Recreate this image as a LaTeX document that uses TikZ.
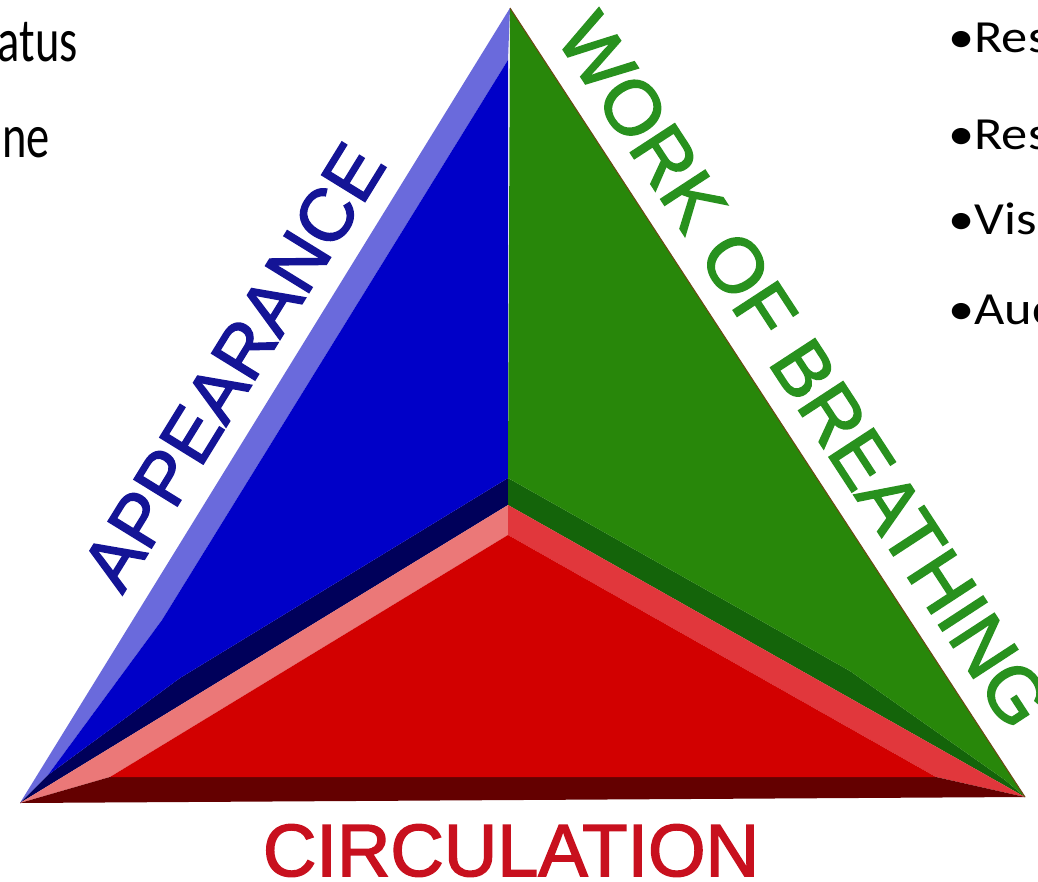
\documentclass[tikz,border=0pt]{standalone}
\usepackage{fontspec}
\setmainfont{Carlito}
\newfontfamily\arialf[FakeBold=2]{Liberation Sans}
\definecolor{lblue}{RGB}{106,106,220}
\definecolor{bmain}{RGB}{0,0,200}
\definecolor{navyb}{RGB}{0,0,90}
\definecolor{gmain}{RGB}{40,135,10}
\definecolor{dgreen}{RGB}{20,100,10}
\definecolor{pinkr}{RGB}{235,120,120}
\definecolor{lred}{RGB}{225,55,60}
\definecolor{rmain}{RGB}{210,0,0}
\definecolor{maroon}{RGB}{100,0,0}
\definecolor{edgec}{RGB}{110,70,20}
\definecolor{appc}{RGB}{20,20,150}
\definecolor{wobc}{RGB}{40,145,30}
\definecolor{circc}{RGB}{200,16,30}
\tikzset{
  lab/.style={font=\arialf\fontsize{74}{80}\selectfont, inner sep=0pt},
  lefttext/.style={font=\fontsize{62}{70}\selectfont, inner sep=0pt, text=black, anchor=base east},
  righttext/.style={font=\fontsize{46}{52}\selectfont, inner sep=0pt, text=black, anchor=base west}
}
\newcommand{\lsq}[1]{\scalebox{0.75}[1]{#1}}
\newcommand{\rwd}[1]{\scalebox{1.14}[1]{#1}}
\begin{document}
\begin{tikzpicture}[x=1pt,y=-1pt]
\useasboundingbox (0,0) rectangle (1038,882);
\clip (0,0) rectangle (1038,882);
\fill[white] (0,0) rectangle (1038,882);
% outer vertices
\coordinate (A) at (510,8);
\coordinate (L) at (20,803);
\coordinate (R) at (1025,797);
\coordinate (C) at (508,505);
% blue face inner points
\coordinate (Ap) at (508,60);
\coordinate (Cp) at (508,478);
\coordinate (B1) at (162,620);
\coordinate (N1) at (180,678);
\coordinate (Tb) at (48,775);
% green face inner points
\coordinate (G1) at (850,671);
\coordinate (Tg) at (1005,780);
% red face inner points
\coordinate (Cpp) at (508,535);
\coordinate (Lpp) at (110,777);
\coordinate (Rpp) at (936,777);
% blue face
\fill[lblue] (A) -- (L) -- (Tb) -- (B1) -- (Ap) -- cycle;
\fill[navyb] (C) -- (L) -- (Tb) -- (N1) -- (Cp) -- cycle;
\fill[bmain] (Ap) -- (B1) -- (Tb) -- (N1) -- (Cp) -- cycle;
% green face
\fill[dgreen] (C) -- (R) -- (Tg) -- (G1) -- (Cp) -- cycle;
\fill[gmain] (A) -- (Cp) -- (G1) -- (Tg) -- (R) -- cycle;
% red face
\fill[pinkr] (C) -- (L) -- (Lpp) -- (Cpp) -- cycle;
\fill[lred] (C) -- (R) -- (Rpp) -- (Cpp) -- cycle;
\fill[maroon] (L) -- (R) -- (Rpp) -- (Lpp) -- cycle;
\fill[rmain] (Cpp) -- (Lpp) -- (Rpp) -- cycle;
\draw[edgec, line width=1pt] (A) -- (R);
% labels
\node[lab, text=appc, rotate=58.35, anchor=base] (app) at (255,380) {APPEARANCE};
\node[lab, text=wobc, rotate=-56.87, anchor=base, font=\arialf\fontsize{77}{82}\selectfont] (wob) at (782,385) {WORK OF BREATHING};
\node[lab, text=circc, anchor=base] (circ) at (511,876) {CIRCULATION};
% side texts
\node[lefttext] (lt1) at (78,62) {\lsq{atus}};
\node[lefttext] (lt2) at (50,158) {\lsq{ne}};
\node[righttext] (rt1) at (948,53) {\rwd{•Res}};
\node[righttext] (rt2) at (948,150) {\rwd{•Res}};
\node[righttext] (rt3) at (948,235) {\rwd{•Vis}};
\node[righttext] (rt4) at (948,325) {\rwd{•Auc}};
\end{tikzpicture}
\end{document}
